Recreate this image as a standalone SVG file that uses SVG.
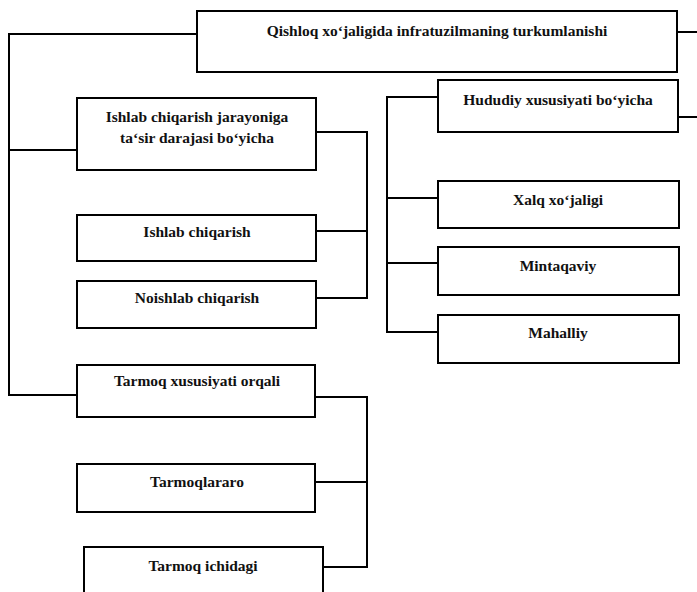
<svg xmlns="http://www.w3.org/2000/svg" width="697" height="592" viewBox="0 0 697 592">
<style>
.box{fill:#fff;stroke:#000;stroke-width:2}
.ln{fill:none;stroke:#000;stroke-width:2}
text{font-family:"Liberation Serif","Times New Roman",serif;font-size:15.5px;font-weight:bold;fill:#111;text-anchor:middle}
</style>
<rect width="697" height="592" fill="#fff"/>
<g id="connectors">
<polyline class="ln" points="197,34 9,34 9,395 77,395"/>
<line class="ln" x1="9" y1="150" x2="77" y2="150"/>
<line class="ln" x1="677" y1="32" x2="697" y2="32"/>
<polyline class="ln" points="316,132 367,132 367,298 316,298"/>
<line class="ln" x1="316" y1="231" x2="367" y2="231"/>
<polyline class="ln" points="438,97 387,97 387,332 438,332"/>
<line class="ln" x1="387" y1="198" x2="438" y2="198"/>
<line class="ln" x1="387" y1="263" x2="438" y2="263"/>
<line class="ln" x1="678" y1="117" x2="697" y2="117"/>
<polyline class="ln" points="315,397 367,397 367,567 323,567"/>
<line class="ln" x1="315" y1="482" x2="367" y2="482"/>
</g>
<g id="n-title"><rect class="box" x="197" y="11" width="480" height="61"/><text x="437" y="36">Qishloq xo‘jaligida infratuzilmaning turkumlanishi</text></g>
<g id="n-ishlab-jarayon"><rect class="box" x="77" y="98" width="239" height="72"/><text x="197" y="122">Ishlab chiqarish jarayoniga</text><text x="197" y="143">ta‘sir darajasi bo‘yicha</text></g>
<g id="n-ishlab"><rect class="box" x="77" y="215" width="239" height="46"/><text x="197" y="237">Ishlab chiqarish</text></g>
<g id="n-noishlab"><rect class="box" x="77" y="281" width="239" height="47"/><text x="197" y="303">Noishlab chiqarish</text></g>
<g id="n-hududiy"><rect class="box" x="438" y="80" width="240" height="52"/><text x="558" y="105">Hududiy xususiyati bo‘yicha</text></g>
<g id="n-xalq"><rect class="box" x="438" y="181" width="241" height="47"/><text x="558" y="205">Xalq xo‘jaligi</text></g>
<g id="n-mintaqaviy"><rect class="box" x="438" y="247" width="241" height="48"/><text x="558" y="271">Mintaqaviy</text></g>
<g id="n-mahalliy"><rect class="box" x="438" y="315" width="241" height="48"/><text x="558" y="338">Mahalliy</text></g>
<g id="n-tarmoq-xus"><rect class="box" x="77" y="365" width="238" height="52"/><text x="197" y="386">Tarmoq xususiyati orqali</text></g>
<g id="n-tarmoqlararo"><rect class="box" x="77" y="464" width="238" height="48"/><text x="197" y="487">Tarmoqlararo</text></g>
<g id="n-tarmoq-ichidagi"><rect class="box" x="84" y="547" width="239" height="60"/><text x="203" y="571">Tarmoq ichidagi</text></g>
</svg>
